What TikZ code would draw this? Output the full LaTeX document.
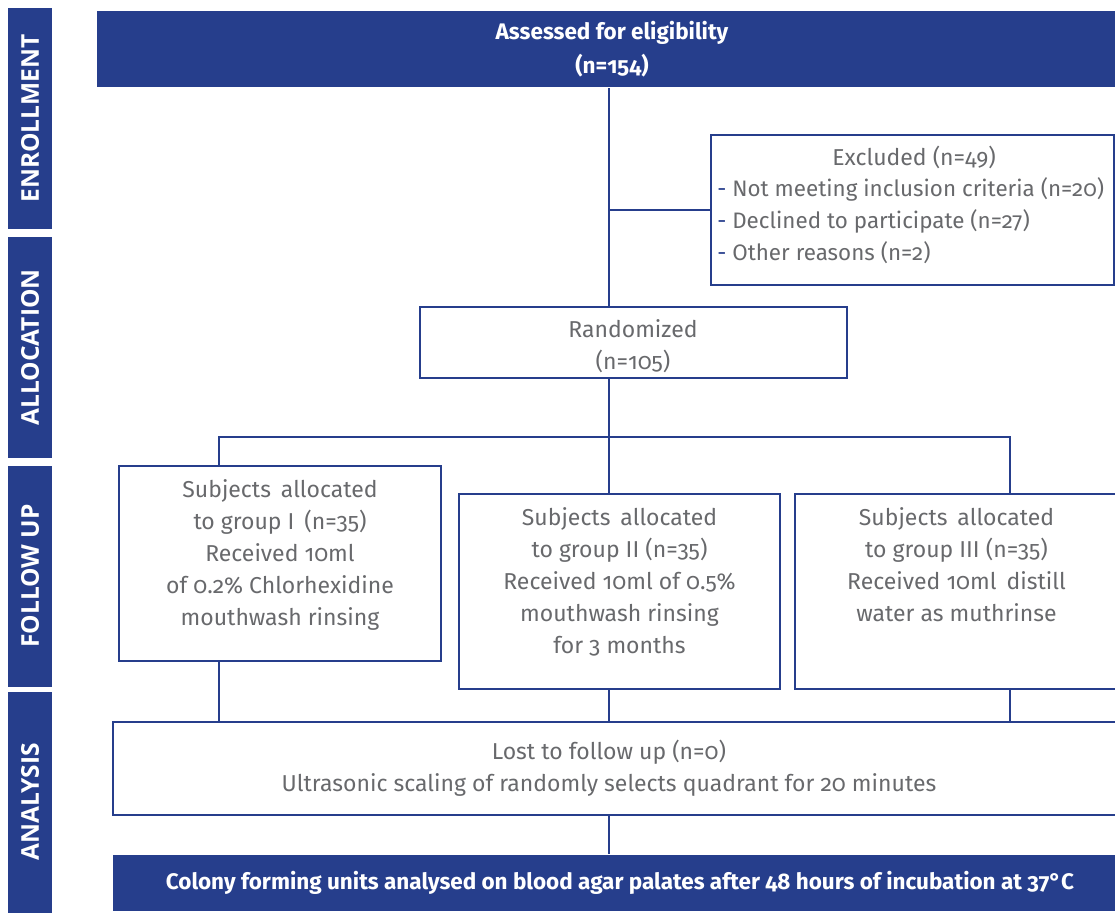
\documentclass[tikz,border=0pt]{standalone}
\usepackage{fontspec}
\setmainfont{Fira Sans}[Numbers=OldStyle]
\newfontfamily\sidefont{Open Sans}
\usetikzlibrary{positioning}
\definecolor{flowblue}{RGB}{38,62,140}
\definecolor{flowgrey}{RGB}{104,105,108}

\begin{document}
\begin{tikzpicture}[x=1pt,y=-1pt,line width=2.6pt,draw=flowblue]
\tikzstyle{box}=[draw=flowblue,line width=2.6pt,rectangle,inner sep=0]
\tikzstyle{bar}=[fill=flowblue,rectangle,inner sep=0,text=white,align=center,font=\bfseries\fontsize{22.5}{34}\selectfont]
\tikzstyle{side}=[bar,rotate=90,minimum width=221,minimum height=44,font=\sidefont\bfseries\fontsize{24.5}{28}\selectfont]
\tikzstyle{txt}=[text=flowgrey,inner sep=0,align=center,font=\fontsize{23}{32}\selectfont]
\tikzstyle{item}=[txt,anchor=west,font=\fontsize{22.4}{32}\selectfont]
\useasboundingbox (0,0) rectangle (1115,912);
\clip (0,0) rectangle (1115,912);

\node[side] (enrol) at (30,118.5) {ENROLLMENT};
\node[side] (alloc) at (30,347.5) {ALLOCATION};
\node[side] (follow) at (30,576) {FOLLOW UP};
\node[side] (anal) at (30,802) {ANALYSIS};

\node[bar,minimum width=1030,minimum height=76] (assess) at (612,49) {Assessed for eligibility\\(n=154)};
\node[box,minimum width=403,minimum height=150] (excl) at (912.5,210) {};
\node[txt] (excl0) at (914,157) {Excluded (n=49)};
\node[item] (excl1) at (716,189) {{\color{flowblue}-} Not meeting inclusion criteria (n=20)};
\node[item] (excl2) at (716,221) {{\color{flowblue}-} Declined to participate (n=27)};
\node[item] (excl3) at (716,253) {{\color{flowblue}-} Other reasons (n=2)};
\node[box,minimum width=427,minimum height=71] (rand) at (633.5,342.5) {};
\node[txt] (randtxt) at (633,346) {Randomized\\(n=105)};

\node[box,minimum width=322,minimum height=195] (g1) at (280,563.5) {};
\node[box,minimum width=321,minimum height=195] (g2) at (619.5,591.5) {};
\node[box,minimum width=323,minimum height=195] (g3) at (956.5,591.5) {};
\node[txt,below=14pt of g1.north] (g1txt) {Subjects\, allocated\\to group I\, (n=35)\\Received 10ml\\of 0.2\% Chlorhexidine\\mouthwash rinsing};
\node[txt,below=14pt of g2.north] (g2txt) {Subjects\, allocated\\to group II (n=35)\\Received 10ml of 0.5\%\\mouthwash rinsing\\for 3 months};
\node[txt,below=14pt of g3.north] (g3txt) {Subjects\, allocated\\to group III (n=35)\\Received 10ml\, distill\\water as muthrinse};

\node[box,minimum width=1014,minimum height=93] (lost) at (620,768.5) {};
\node[txt] (losttxt) at (609,768) {Lost to follow up (n=0)\\Ultrasonic scaling of randomly selects quadrant for 20 minutes};
\node[bar,minimum width=1014,minimum height=56] (colony) at (620,883) {Colony forming units analysed on blood agar palates after 48 hours of incubation at 37°C};

\coordinate (mid) at (609,0);
\coordinate (split) at (609,437);
\coordinate (l1) at (219,437);
\coordinate (l3) at (1010,437);

\draw (assess.south -| mid) -- (rand.north -| mid);
\draw (excl.west) -- (excl.west -| mid);
\draw (rand.south -| mid) -- (split);
\draw (g1.north -| l1) -- (l1) -- (l3) -- (g3.north -| l3);
\draw (split) -- (g2.north -| split);
\draw (g1.south -| l1) -- (lost.north -| l1);
\draw (g2.south -| mid) -- (lost.north -| mid);
\draw (g3.south -| l3) -- (lost.north -| l3);
\draw (lost.south -| mid) -- (colony.north -| mid);
\end{tikzpicture}
\end{document}
